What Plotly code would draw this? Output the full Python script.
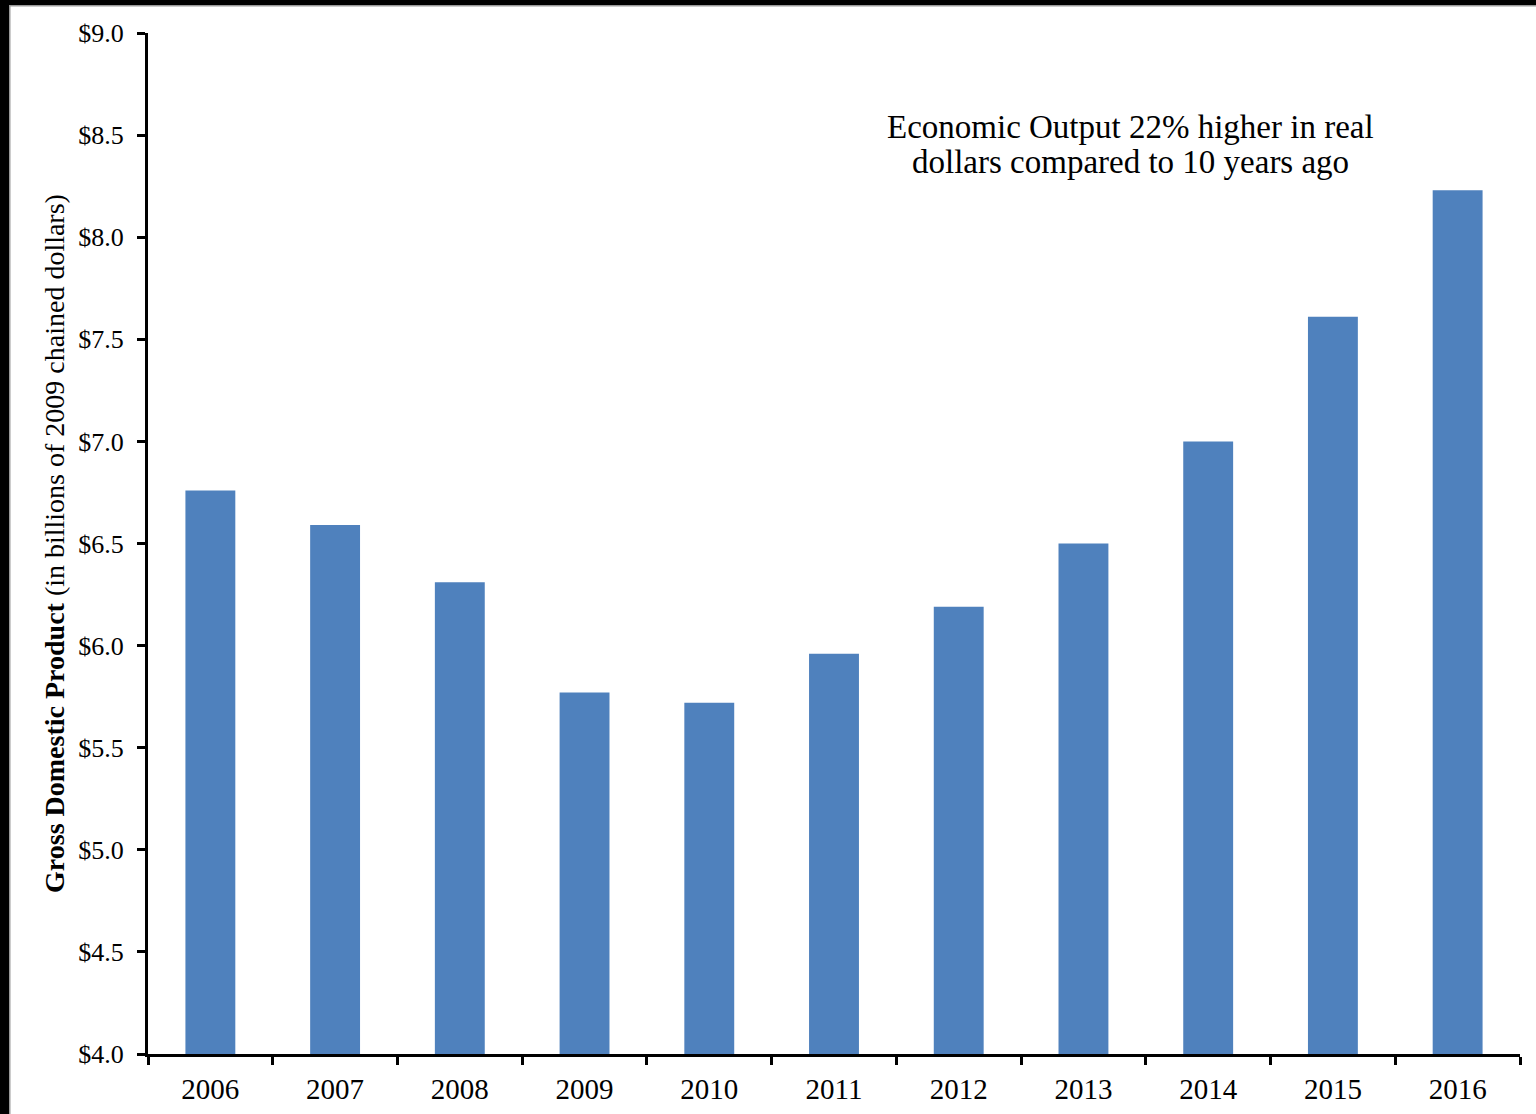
import plotly.graph_objects as go

years = ["2006", "2007", "2008", "2009", "2010", "2011", "2012", "2013", "2014", "2015", "2016"]
gdp = [6.76, 6.59, 6.31, 5.77, 5.72, 5.96, 6.19, 6.50, 7.00, 7.61, 8.23]
y_ticks = [4.0, 4.5, 5.0, 5.5, 6.0, 6.5, 7.0, 7.5, 8.0, 8.5, 9.0]
y_tick_labels = ["$%.1f" % v for v in y_ticks]
note_lines = ["Economic Output 22% higher in real", "dollars compared to 10 years ago"]

W, H = 1536, 1114
L, R, T, B = 148, 16, 33, 60
FONT = "Liberation Serif"

fig = go.Figure(go.Bar(x=years, y=gdp, marker=dict(color="#4f81bd", line=dict(width=0))))

def px_x(p):
    return (p - L) / (W - L - R)

def px_y(p):
    return (H - B - p) / (H - T - B)

annotations = []
for i, line in enumerate(note_lines):
    annotations.append(dict(
        x=px_x(1130), y=px_y(127 + 35 * i), xref="paper", yref="paper",
        text=line, showarrow=False, font=dict(size=33, family=FONT, color="black"),
        xanchor="center", yanchor="middle", align="center",
    ))

fig.update_layout(
    width=W, height=H,
    margin=dict(l=L, r=R, t=T, b=B),
    paper_bgcolor="white", plot_bgcolor="white",
    bargap=0.6,
    showlegend=False,
    font=dict(family=FONT, color="black", size=26),
    xaxis=dict(
        type="category", tickson="boundaries", ticks="outside", ticklen=8, tickwidth=3,
        tickcolor="black", showline=True, linecolor="black", linewidth=3,
        showgrid=False, tickfont=dict(size=29, family=FONT), ticklabelstandoff=7,
        automargin=False,
    ),
    yaxis=dict(
        range=[4.0, 9.0], tickvals=y_ticks, ticktext=y_tick_labels, ticks="outside",
        ticklen=8, tickwidth=3, tickcolor="black", showline=True, linecolor="black",
        linewidth=3, showgrid=False, zeroline=False, tickfont=dict(size=26, family=FONT),
        ticklabelstandoff=8,
        title=dict(text="<b>Gross Domestic Product</b> (in billions of 2009 chained dollars)",
                   font=dict(size=28, family=FONT), standoff=6),
    ),
    annotations=annotations,
    shapes=[
        dict(type="rect", xref="paper", yref="paper", x0=px_x(0), x1=px_x(9),
             y0=px_y(H), y1=px_y(0), fillcolor="black", line=dict(width=0), layer="above"),
        dict(type="rect", xref="paper", yref="paper", x0=px_x(0), x1=px_x(W),
             y0=px_y(5), y1=px_y(0), fillcolor="black", line=dict(width=0), layer="above"),
        dict(type="rect", xref="paper", yref="paper", x0=px_x(9), x1=px_x(W),
             y0=px_y(6.5), y1=px_y(5), fillcolor="#999999", line=dict(width=0), layer="above"),
        dict(type="rect", xref="paper", yref="paper", x0=px_x(9), x1=px_x(10.5),
             y0=px_y(H), y1=px_y(5), fillcolor="#999999", line=dict(width=0), layer="above"),
    ],
)

fig.write_html(
    "out.html",
    config={"displayModeBar": False},
    post_script="document.body.style.margin='0';document.body.style.overflow='hidden';"
                "document.documentElement.style.overflow='hidden';",
)
